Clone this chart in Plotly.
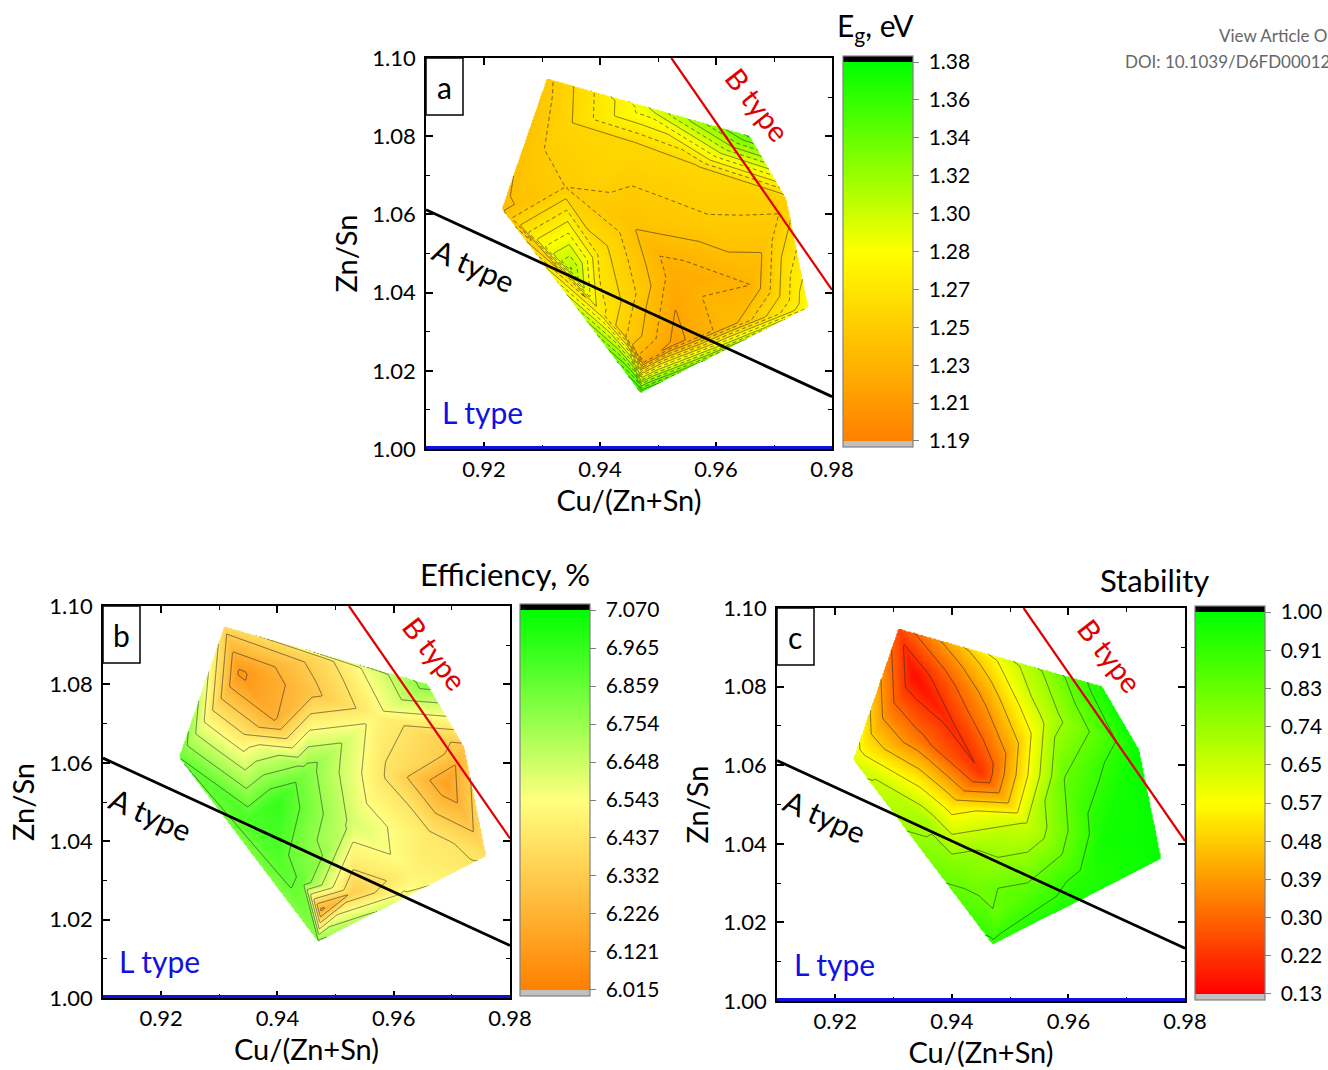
import numpy as np
import plotly.graph_objects as go

# ------------------------------------------------------------------
# Data: sample compositions (scattered points) and measured values
# ------------------------------------------------------------------
cu_ratio = [0.9308, 0.9230, 0.9470, 0.9760, 0.9722, 0.9658, 0.9335, 0.9340,
            0.9350, 0.9480, 0.9460, 0.9450, 0.9400, 0.9475, 0.9530, 0.9590,
            0.9570, 0.9660, 0.9690, 0.9630, 0.9530, 0.9400, 0.9615, 0.9395,
            0.9440]
zn_sn = [1.0949, 1.0614, 1.0142, 1.0362, 1.0640, 1.0802, 1.0830, 1.0670,
         1.0460, 1.0865, 1.0780, 1.0580, 1.0500, 1.0225, 1.0270, 1.0570,
         1.0720, 1.0420, 1.0550, 1.0320, 1.0450, 1.0350, 1.0265, 1.0710,
         1.0300]
eg_ev = [1.244, 1.235, 1.365, 1.285, 1.250, 1.345, 1.252, 1.247,
         1.315, 1.290, 1.255, 1.240, 1.262, 1.222, 1.215, 1.245,
         1.255, 1.228, 1.243, 1.235, 1.222, 1.270, 1.300, 1.252,
         1.250]
efficiency_pct = [6.38, 6.86, 6.78, 6.42, 6.30, 6.80, 6.10, 6.45,
                  6.92, 6.40, 6.30, 6.80, 6.96, 6.20, 6.35, 6.42,
                  6.50, 6.45, 6.15, 6.50, 6.62, 6.90, 6.55, 6.22,
                  6.85]
stability = [0.25, 0.62, 0.93, 0.99, 0.99, 0.97, 0.15, 0.33,
             0.72, 0.57, 0.42, 0.22, 0.52, 0.83, 0.86, 0.82,
             0.70, 0.97, 0.97, 0.94, 0.66, 0.78, 0.95, 0.20,
             0.80]

# colour-bar tick labels
eg_ticks = [1.19, 1.209, 1.228, 1.247, 1.266, 1.285, 1.304, 1.323, 1.342, 1.361, 1.38]
eg_ticktext = ["1.19", "1.21", "1.23", "1.25", "1.27", "1.28", "1.30", "1.32", "1.34", "1.36", "1.38"]
eff_ticks = [6.015, 6.1205, 6.226, 6.3315, 6.437, 6.5425, 6.648, 6.7535, 6.859, 6.9645, 7.070]
eff_ticktext = ["6.015", "6.121", "6.226", "6.332", "6.437", "6.543", "6.648", "6.754", "6.859", "6.965", "7.070"]
stab_ticks = [0.13, 0.217, 0.304, 0.391, 0.478, 0.565, 0.652, 0.739, 0.826, 0.913, 1.00]
stab_ticktext = ["0.13", "0.22", "0.30", "0.39", "0.48", "0.57", "0.65", "0.74", "0.83", "0.91", "1.00"]

# axis ticks
x_tickvals = [0.92, 0.94, 0.96, 0.98]
x_ticktext = ["0.92", "0.94", "0.96", "0.98"]
x_minor = [0.91, 0.93, 0.95, 0.97]
y_tickvals = [1.00, 1.02, 1.04, 1.06, 1.08, 1.10]
y_ticktext = ["1.00", "1.02", "1.04", "1.06", "1.08", "1.10"]
y_minor = [1.01, 1.03, 1.05, 1.07, 1.09]

# type boundary lines
a_type_x = [0.91, 0.98]
a_type_y = [1.0612, 1.0134]
b_type_x = [0.9523, 0.98]
b_type_y = [1.10, 1.0407]
l_type_x = [0.91, 0.98]
l_type_y = [1.00, 1.00]

# label anchor positions (data coords)
a_label_pos = (0.9182, 1.0470)
b_label_pos = (0.9672, 1.0880)
l_label_pos = (0.9198, 1.0095)

FONT = "Lato"
W, H = 1328, 1070
NB = "\u00a0"


# ------------------------------------------------------------------
# Triangulated (linear) contouring of scattered data
# ------------------------------------------------------------------
def delaunay(u, v):
    n = len(u)
    cx, cy = sum(u) / n, sum(v) / n
    R = 1e5
    P = list(zip(u, v)) + [(cx - 3 * R, cy - R), (cx + 3 * R, cy - R), (cx, cy + 3 * R)]
    tris = [(n, n + 1, n + 2)]

    def circum(t):
        (ax, ay), (bx, by), (qx, qy) = P[t[0]], P[t[1]], P[t[2]]
        d = 2.0 * (ax * (by - qy) + bx * (qy - ay) + qx * (ay - by))
        a2, b2, q2 = ax * ax + ay * ay, bx * bx + by * by, qx * qx + qy * qy
        ux = (a2 * (by - qy) + b2 * (qy - ay) + q2 * (ay - by)) / d
        uy = (a2 * (qx - bx) + b2 * (ax - qx) + q2 * (bx - ax)) / d
        return ux, uy, (ax - ux) ** 2 + (ay - uy) ** 2

    for i in range(n):
        px, py = P[i]
        bad, keep = [], []
        for t in tris:
            ux, uy, r2 = circum(t)
            (bad if (px - ux) ** 2 + (py - uy) ** 2 < r2 else keep).append(t)
        count = {}
        for t in bad:
            for e in ((t[0], t[1]), (t[1], t[2]), (t[2], t[0])):
                k = tuple(sorted(e))
                count[k] = count.get(k, 0) + 1
        tris = keep + [(a, b, i) for (a, b), c in count.items() if c == 1]
    return [t for t in tris if max(t) < n]


def tri_grid(xs, ys, zs, nx=270, ny=270):
    xs, ys, zs = np.asarray(xs), np.asarray(ys), np.asarray(zs)
    su, sv = 5800.0, 3910.0  # roughly pixel-proportional scaling
    u, v = (xs - 0.9) * su, (ys - 1.0) * sv
    tris = delaunay(list(u), list(v))
    gx = np.linspace(xs.min(), xs.max(), nx)
    gy = np.linspace(ys.min(), ys.max(), ny)
    GX, GY = np.meshgrid(gx, gy)
    GU, GV = (GX - 0.9) * su, (GY - 1.0) * sv
    Z = np.full(GX.shape, np.nan)
    for a, b, c in tris:
        x1, y1, x2, y2, x3, y3 = u[a], v[a], u[b], v[b], u[c], v[c]
        det = (y2 - y3) * (x1 - x3) + (x3 - x2) * (y1 - y3)
        if abs(det) < 1e-12:
            continue
        l1 = ((y2 - y3) * (GU - x3) + (x3 - x2) * (GV - y3)) / det
        l2 = ((y3 - y1) * (GU - x3) + (x1 - x3) * (GV - y3)) / det
        l3 = 1 - l1 - l2
        m = (l1 >= -1e-9) & (l2 >= -1e-9) & (l3 >= -1e-9)
        Z[m] = (l1 * zs[a] + l2 * zs[b] + l3 * zs[c])[m]
    zl = [[None if np.isnan(val) else float(val) for val in row] for row in Z]
    return gx, gy, zl


GRAY = "#c0c0c0"
EDGE = 0.0155


def cscale(stops):
    out = [[0, GRAY], [EDGE, GRAY]]
    for t, c in stops:
        out.append([EDGE + (1 - 2 * EDGE) * t, c])
    out += [[1 - EDGE, "black"], [1, "black"]]
    return out


cs_eg = cscale([(0, "rgb(255,128,0)"), (0.5, "rgb(255,255,0)"), (1, "rgb(0,255,0)")])
cs_eff = cscale([(0, "rgb(255,128,0)"), (0.5, "rgb(255,255,128)"), (1, "rgb(0,255,0)")])
cs_stab = cscale([(0, "rgb(255,0,0)"), (0.5, "rgb(255,255,0)"), (1, "rgb(0,255,0)")])

fig = go.Figure()

# pixel boxes for the three plot areas: (left, top, right, bottom)
boxes = {
    "a": (426, 58, 832, 449),
    "b": (103, 606, 510, 998),
    "c": (777, 608, 1185, 1001),
}
cbars = {  # left, top, bottom of colour bars
    "a": (843, 56, 447),
    "b": (520, 604, 996),
    "c": (1195, 606, 1000),
}

panels = [
    dict(key="a", xa="x", ya="y", vals=eg_ev, cs=cs_eg, lo=1.19, hi=1.38, nlev=20,
         ticks=eg_ticks, ticktext=eg_ticktext, dashed=True),
    dict(key="b", xa="x2", ya="y2", vals=efficiency_pct, cs=cs_eff, lo=6.015, hi=7.070, nlev=10,
         ticks=eff_ticks, ticktext=eff_ticktext, dashed=False),
    dict(key="c", xa="x3", ya="y3", vals=stability, cs=cs_stab, lo=0.13, hi=1.00, nlev=10,
         ticks=stab_ticks, ticktext=stab_ticktext, dashed=False),
]

LINE_COL = "rgba(35,35,35,0.85)"

for p in panels:
    gx, gy, zl = tri_grid(cu_ratio, zn_sn, p["vals"])
    lo, hi = p["lo"], p["hi"]
    pad = EDGE / (1 - 2 * EDGE) * (hi - lo)
    cb_l, cb_t, cb_b = cbars[p["key"]]
    fig.add_trace(go.Contour(
        x=gx, y=gy, z=zl, xaxis=p["xa"], yaxis=p["ya"],
        colorscale=p["cs"], zmin=lo - pad, zmax=hi + pad, zauto=False,
        autocontour=False,
        contours=dict(coloring="heatmap", showlines=False, start=lo, end=hi,
                      size=(hi - lo) / p["nlev"]),
        line=dict(width=0, color="rgba(0,0,0,0)"),
        connectgaps=False, hoverinfo="skip",
        colorbar=dict(
            x=cb_l / W, xanchor="left", xpad=0,
            y=1 - cb_b / H, yanchor="bottom", ypad=0,
            len=cb_b - cb_t, lenmode="pixels",
            thickness=70, thicknessmode="pixels",
            outlinecolor="#808080", outlinewidth=1.2,
            tickmode="array", tickvals=p["ticks"], ticktext=[NB + s for s in p["ticktext"]],
            ticks="outside", ticklen=6, tickcolor="#808080", tickwidth=1.2,
            tickfont=dict(family=FONT, size=21, color="black"),
        ),
    ))
    step = (hi - lo) / p["nlev"]
    if p["dashed"]:
        fig.add_trace(go.Contour(
            x=gx, y=gy, z=zl, xaxis=p["xa"], yaxis=p["ya"], showscale=False,
            autocontour=False,
            contours=dict(coloring="none", showlines=True, start=lo + step, end=hi, size=2 * step),
            line=dict(color=LINE_COL, width=0.7, smoothing=0),
            connectgaps=False, hoverinfo="skip"))
        fig.add_trace(go.Contour(
            x=gx, y=gy, z=zl, xaxis=p["xa"], yaxis=p["ya"], showscale=False,
            autocontour=False,
            contours=dict(coloring="none", showlines=True, start=lo + 2 * step, end=hi, size=2 * step),
            line=dict(color=LINE_COL, width=0.8, smoothing=0, dash="4px,3px"),
            connectgaps=False, hoverinfo="skip"))
    else:
        fig.add_trace(go.Contour(
            x=gx, y=gy, z=zl, xaxis=p["xa"], yaxis=p["ya"], showscale=False,
            autocontour=False,
            contours=dict(coloring="none", showlines=True, start=lo + step, end=hi, size=step),
            line=dict(color=LINE_COL, width=0.7, smoothing=0),
            connectgaps=False, hoverinfo="skip"))

    # type lines
    fig.add_trace(go.Scatter(x=a_type_x, y=a_type_y, mode="lines", xaxis=p["xa"], yaxis=p["ya"],
                             line=dict(color="black", width=2.8), showlegend=False, hoverinfo="skip"))
    fig.add_trace(go.Scatter(x=b_type_x, y=b_type_y, mode="lines", xaxis=p["xa"], yaxis=p["ya"],
                             line=dict(color="#e00000", width=2.2), showlegend=False, hoverinfo="skip"))
    fig.add_trace(go.Scatter(x=l_type_x, y=l_type_y, mode="lines", xaxis=p["xa"], yaxis=p["ya"],
                             line=dict(color="#1010e0", width=6), showlegend=False, hoverinfo="skip"))

layout = dict(
    width=W, height=H, margin=dict(l=0, r=0, t=0, b=0),
    paper_bgcolor="white", plot_bgcolor="white", showlegend=False,
    font=dict(family=FONT, color="black"),
)


def axis_common():
    return dict(showline=True, linecolor="black", linewidth=1.5, mirror="allticks",
                ticks="inside", ticklen=7, tickwidth=1.5, tickcolor="black",
                showgrid=False, zeroline=False, layer="below traces",
                tickfont=dict(family=FONT, size=22, color="black"),
                automargin=False)


shapes, annotations = [], []
for p, (xk, yk, xa, ya) in zip(panels, [("xaxis", "yaxis", "x", "y"),
                                         ("xaxis2", "yaxis2", "x2", "y2"),
                                         ("xaxis3", "yaxis3", "x3", "y3")]):
    l, t, r, b = boxes[p["key"]]
    xax = axis_common()
    xax.update(domain=[l / W, r / W], anchor=ya, range=[0.91, 0.98],
               tickmode="array", tickvals=x_tickvals, ticktext=x_ticktext,
               minor=dict(tickmode="array", tickvals=x_minor, ticks="inside", ticklen=4,
                          tickwidth=1.2, tickcolor="black", showgrid=False),
               ticklabelstandoff=0,
               title=dict(text="Cu/(Zn+Sn)", font=dict(family=FONT, size=29), standoff=2))
    yax = axis_common()
    yax.update(domain=[1 - b / H, 1 - t / H], anchor=xa, range=[1.00, 1.10],
               tickmode="array", tickvals=y_tickvals, ticktext=y_ticktext,
               minor=dict(tickmode="array", tickvals=y_minor, ticks="inside", ticklen=4,
                          tickwidth=1.2, tickcolor="black", showgrid=False),
               ticklabelstandoff=4,
               title=dict(text="Zn/Sn", font=dict(family=FONT, size=29), standoff=6))
    layout[xk] = xax
    layout[yk] = yax

    # panel letter box
    pw, ph = r - l, b - t
    shapes.append(dict(type="rect", xref=f"{xa} domain", yref=f"{ya} domain",
                       x0=0, x1=37 / pw, y0=1 - 57 / ph, y1=1,
                       line=dict(color="black", width=1.5), fillcolor="white", layer="above"))
    annotations.append(dict(text=p["key"], xref=f"{xa} domain", yref=f"{ya} domain",
                            x=18.5 / pw, y=1 - 29 / ph, xanchor="center", yanchor="middle",
                            showarrow=False, font=dict(family=FONT, size=30, color="black")))
    # type labels
    annotations.append(dict(text="A type", xref=xa, yref=ya, x=a_label_pos[0], y=a_label_pos[1],
                            showarrow=False, textangle=24,
                            font=dict(family=FONT, size=30, color="black")))
    annotations.append(dict(text="B type", xref=xa, yref=ya, x=b_label_pos[0], y=b_label_pos[1],
                            showarrow=False, textangle=52,
                            font=dict(family=FONT, size=29, color="#e00000")))
    annotations.append(dict(text="L type", xref=xa, yref=ya, x=l_label_pos[0], y=l_label_pos[1],
                            showarrow=False,
                            font=dict(family=FONT, size=30, color="#1010e0")))

# colour bar titles
annotations.append(dict(text="E<sub>g</sub>, eV", xref="paper", yref="paper", x=875 / W, y=1 - 49 / H,
                        xanchor="center", yanchor="bottom",
                        showarrow=False, font=dict(family=FONT, size=30, color="black")))
annotations.append(dict(text="Efficiency, %", xref="paper", yref="paper", x=505 / W, y=1 - 574 / H,
                        showarrow=False, font=dict(family=FONT, size=31, color="black")))
annotations.append(dict(text="Stability", xref="paper", yref="paper", x=1211 / W, y=1 - 580 / H,
                        showarrow=False, font=dict(family=FONT, size=31, color="black")))
# page header text (cut at the right edge)
annotations.append(dict(text="View Article Online", xref="paper", yref="paper", x=1217 / W, y=1 - 36 / H,
                        xanchor="left", yanchor="middle", showarrow=False,
                        font=dict(family="Lato", size=17, color="#666666")))
annotations.append(dict(text="DOI: 10.1039/D6FD00012A", xref="paper", yref="paper", x=1123 / W, y=1 - 61 / H,
                        xanchor="left", yanchor="middle", showarrow=False,
                        font=dict(family="Lato", size=17, color="#666666")))

layout["shapes"] = shapes
layout["annotations"] = annotations
fig.update_layout(**layout)

fig.write_html("out.html")
